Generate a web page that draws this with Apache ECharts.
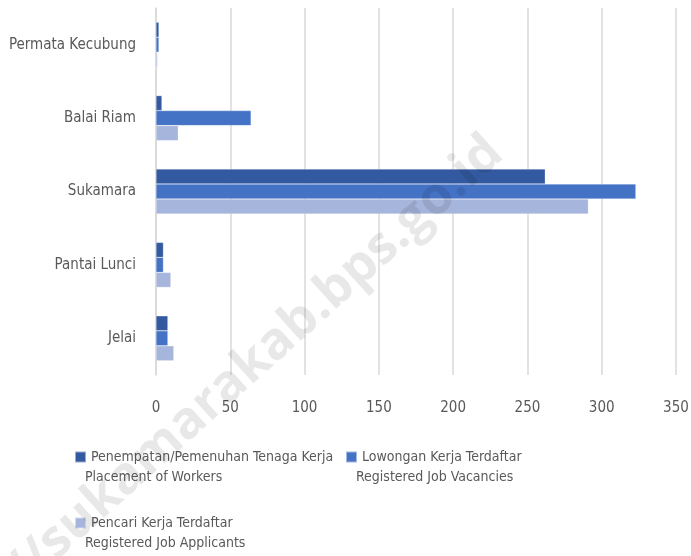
<!DOCTYPE html>
<html>
<head>
<meta charset="utf-8">
<script src="https://cdn.jsdelivr.net/npm/echarts@6/dist/echarts.min.js"></script>
<style>
  html, body { margin: 0; padding: 0; background: #fff; }
  #chart { width: 691px; height: 556px; }
</style>
</head>
<body>
<div id="chart"></div>
<script>
// kecamatan, dari atas ke bawah
const districts = ['Permata Kecubung', 'Balai Riam', 'Sukamara', 'Pantai Lunci', 'Jelai']
const placement = [2, 4, 262, 5, 8]
const vacancies = [2, 64, 323, 5, 8]
const applicants = [1, 15, 291, 10, 12]
const xTicks = [0, 50, 100, 150, 200, 250, 300, 350]

const names = [
  'Penempatan/Pemenuhan Tenaga Kerja',
  'Lowongan Kerja Terdaftar',
  'Pencari Kerja Terdaftar'
]
const subNames = ['Placement of Workers', 'Registered Job Vacancies', 'Registered Job Applicants']
const colors = ['#335AA0', '#4472C4', '#A6B5DB']

const font = "'Liberation Sans Narrow', 'DejaVu Sans Condensed', 'Roboto', sans-serif"
const textColor = '#595959'

const chart = echarts.init(document.getElementById('chart'))

const legendPos = [
  { left: 69, top: 445 },
  { left: 340, top: 445 },
  { left: 69, top: 511 }
]
const subPos = [[85, 479], [356, 479], [85, 545]]

const barSeries = [placement, vacancies, applicants].map((vals, i) => ({
  name: names[i],
  type: 'bar',
  data: vals,
  barWidth: 15,
  barGap: '0%',
  itemStyle: { color: colors[i], borderColor: 'rgba(255,255,255,0.5)', borderWidth: 0.5 },
  silent: true
}))

chart.setOption({
  animation: false,
  textStyle: { fontFamily: font },
  grid: { left: 156, right: 15, top: 8, bottom: 181, outerBoundsMode: 'none' },
  xAxis: {
    type: 'value',
    min: xTicks[0],
    max: xTicks[xTicks.length - 1],
    interval: 50,
    axisLine: { show: false },
    axisTick: { show: false },
    splitLine: { lineStyle: { color: '#d9d9d9', width: 1.5 } },
    axisLabel: { color: textColor, fontSize: 15, fontFamily: font, margin: 26 }
  },
  yAxis: {
    type: 'category',
    data: districts,
    inverse: true,
    axisLine: { show: true, lineStyle: { color: '#d9d9d9', width: 1.5 } },
    axisTick: { show: false },
    axisLabel: { color: textColor, fontSize: 15, fontFamily: font, margin: 20 }
  },
  legend: names.map((n, i) => ({
    data: [n],
    left: legendPos[i].left,
    top: legendPos[i].top,
    icon: 'rect',
    itemWidth: 11,
    itemHeight: 11,
    itemGap: 5,
    selectedMode: false,
    textStyle: { color: textColor, fontSize: 14, fontFamily: font, padding: [0, 0, 0, 0] }
  })),
  graphic: subNames.map((t, i) => ({
    type: 'text',
    left: subPos[i][0],
    top: subPos[i][1] - 9,
    style: { text: t, fill: textColor, font: '14px ' + font }
  })).concat([{
    type: 'text',
    x: 255,
    y: 362,
    rotation: 42 * Math.PI / 180,
    z: 100,
    silent: true,
    style: {
      text: '//sukamarakab.bps.go.id',
      fill: 'rgba(0,0,0,0.09)',
      font: 'bold 52px "Open Sans", sans-serif',
      align: 'center',
      verticalAlign: 'middle'
    }
  }]),
  series: barSeries
})
</script>
</body>
</html>
